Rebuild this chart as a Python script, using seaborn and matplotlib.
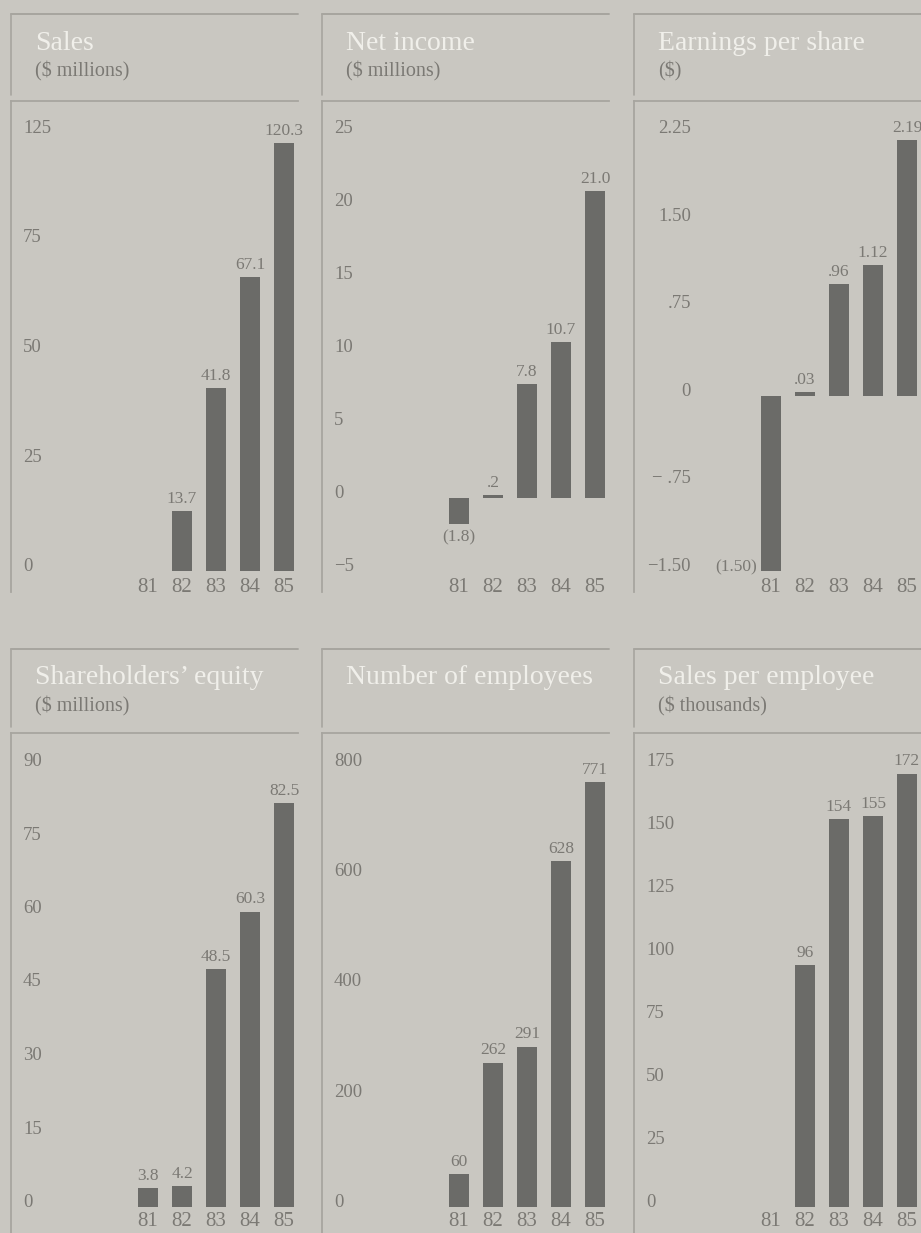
import numpy as np
import pandas as pd
import matplotlib
matplotlib.use("Agg")
import matplotlib.pyplot as plt
import seaborn as sns
from matplotlib.lines import Line2D

# ---------------- data ----------------
years = ["81", "82", "83", "84", "85"]

sales = [np.nan, 13.7, 41.8, 67.1, 120.3]
sales_labels = ["", "13.7", "41.8", "67.1", "120.3"]
sales_ticks = [0, 25, 50, 75, 125]
sales_ticklabels = ["0", "25", "50", "75", "125"]

net_income = [-1.8, 0.2, 7.8, 10.7, 21.0]
net_income_labels = ["(1.8)", ".2", "7.8", "10.7", "21.0"]
net_income_ticks = [-5, 0, 5, 10, 15, 20, 25]
net_income_ticklabels = ["\u22125", "0", "5", "10", "15", "20", "25"]

eps = [-1.50, 0.03, 0.96, 1.12, 2.19]
eps_labels = ["(1.50)", ".03", ".96", "1.12", "2.19"]
eps_ticks = [-1.50, -0.75, 0, 0.75, 1.50, 2.25]
eps_ticklabels = ["\u22121.50", "\u2212 .75", "0", ".75", "1.50", "2.25"]

equity = [3.8, 4.2, 48.5, 60.3, 82.5]
equity_labels = ["3.8", "4.2", "48.5", "60.3", "82.5"]
equity_ticks = [0, 15, 30, 45, 60, 75, 90]
equity_ticklabels = ["0", "15", "30", "45", "60", "75", "90"]

employees = [60, 262, 291, 628, 771]
employees_labels = ["60", "262", "291", "628", "771"]
employees_ticks = [0, 200, 400, 600, 800]
employees_ticklabels = ["0", "200", "400", "600", "800"]

sales_per_employee = [np.nan, 96, 154, 155, 172]
sales_per_employee_labels = ["", "96", "154", "155", "172"]
sales_per_employee_ticks = [0, 25, 50, 75, 100, 125, 150, 175]
sales_per_employee_ticklabels = ["0", "25", "50", "75", "100", "125", "150", "175"]

titles = ["Sales", "Net income", "Earnings per share",
          "Shareholders\u2019 equity", "Number of employees", "Sales per employee"]
subtitles = ["($ millions)", "($ millions)", "($)",
             "($ millions)", "", "($ thousands)"]

# ---------------- style ----------------
BG = "#c9c7c1"
BAR = "#6b6b68"
TXT = "#7b7974"
LINE = "#a7a59f"
TITLE = "#f0efea"

sns.set_theme(style="white", rc={"figure.facecolor": BG, "axes.facecolor": BG,
                                 "savefig.facecolor": BG})
plt.rcParams["font.family"] = ["Liberation Serif", "DejaVu Serif"]

W, H = 921, 1233
fig = plt.figure(figsize=(W / 100, H / 100), dpi=100)
PX = 0.72  # px -> pt at 100 dpi


# compressed scale above 75 (as printed in the Sales panel)
def sales_fwd(y):
    y = np.asarray(y, dtype=float)
    return np.where(y <= 75, y, 75 + (y - 75) * 0.5)


def sales_inv(u):
    u = np.asarray(u, dtype=float)
    return np.where(u <= 75, u, 75 + (u - 75) * 2.0)


ident = lambda v: np.asarray(v, dtype=float)

panels = [
    dict(vals=sales, labs=sales_labels, ticks=sales_ticks, tl=sales_ticklabels,
         scale=(sales_fwd, sales_inv), neg=None, tick_ha="left"),
    dict(vals=net_income, labs=net_income_labels, ticks=net_income_ticks,
         tl=net_income_ticklabels, scale=None, neg="below", tick_ha="left"),
    dict(vals=eps, labs=eps_labels, ticks=eps_ticks, tl=eps_ticklabels,
         scale=None, neg="left", tick_ha="right"),
    dict(vals=equity, labs=equity_labels, ticks=equity_ticks, tl=equity_ticklabels,
         scale=None, neg=None, tick_ha="left"),
    dict(vals=employees, labs=employees_labels, ticks=employees_ticks,
         tl=employees_ticklabels, scale=None, neg=None, tick_ha="left"),
    dict(vals=sales_per_employee, labs=sales_per_employee_labels,
         ticks=sales_per_employee_ticks, tl=sales_per_employee_ticklabels,
         scale=None, neg=None, tick_ha="left"),
]

# layout (pixels)
col_left = [11, 322, 634]
panel_w = 287
rows = [
    dict(title_top=14, chart_top=101, ax_bottom=592, hi_px=133, lo_px=571, xlab_px=587),
    dict(title_top=649, chart_top=733, ax_bottom=1233, hi_px=766, lo_px=1207, xlab_px=1222),
]
first_off = 137.0
spacing = 34.0
BAR_W = 0.56


def fx(x):
    return x / W


def fy(y):
    return 1 - y / H


for k, p in enumerate(panels):
    r = rows[k // 3]
    L = col_left[k % 3]

    # title box lines
    fig.add_artist(Line2D([fx(L), fx(L + panel_w)], [fy(r["title_top"])] * 2,
                          color=LINE, lw=1.4, transform=fig.transFigure))
    fig.add_artist(Line2D([fx(L), fx(L)], [fy(r["title_top"]), fy(r["chart_top"] - 6)],
                          color=LINE, lw=1.2, transform=fig.transFigure))
    fig.text(fx(L + 24), fy(r["title_top"] + 29), titles[k], ha="left", va="center",
             fontsize=20, color=TITLE)
    if subtitles[k]:
        fig.text(fx(L + 24), fy(r["title_top"] + 57), subtitles[k], ha="left",
                 va="center", fontsize=14.5, color=TXT)

    # chart axes
    ax = fig.add_axes([fx(L), fy(r["ax_bottom"]), panel_w / W,
                       (r["ax_bottom"] - r["chart_top"]) / H])
    ax.set_facecolor("none")
    df = pd.DataFrame({"year": years, "value": p["vals"]}).dropna()
    sns.barplot(data=df, x="year", y="value", order=years, color=BAR, width=BAR_W,
                errorbar=None, saturation=1, linewidth=0, ax=ax)

    fwd, inv = p["scale"] if p["scale"] else (ident, ident)
    if p["scale"]:
        ax.set_yscale("function", functions=(fwd, inv))

    u_lo = float(fwd(p["ticks"][0]))
    u_hi = float(fwd(p["ticks"][-1]))
    ppu = (r["lo_px"] - r["hi_px"]) / (u_hi - u_lo)
    u_bot = u_lo - (r["ax_bottom"] - r["lo_px"]) / ppu
    u_top = u_hi + (r["hi_px"] - r["chart_top"]) / ppu
    ax.set_ylim(float(inv(u_bot)), float(inv(u_top)))
    ax.set_xlim(-first_off / spacing, (panel_w - first_off) / spacing)

    for s in ["right", "bottom"]:
        ax.spines[s].set_visible(False)
    for s in ["top", "left"]:
        ax.spines[s].set_visible(True)
        ax.spines[s].set_color(LINE)
        ax.spines[s].set_linewidth(1.3)

    ax.set_yticks(p["ticks"], labels=p["tl"], ha=p["tick_ha"], va="baseline")
    ypad = 12 if p["tick_ha"] == "left" else 57
    ax.tick_params(axis="y", length=0, pad=-ypad * PX, labelsize=13.5, labelcolor=TXT)
    ax.tick_params(axis="x", length=0, pad=-(r["ax_bottom"] - r["xlab_px"]) * PX,
                   labelsize=15, labelcolor=TXT)
    for lab in ax.get_xticklabels():
        lab.set_va("center")
    ax.set_xlabel("")
    ax.set_ylabel("")
    ax.grid(False)

    # value labels
    for i, (v, lab) in enumerate(zip(p["vals"], p["labs"])):
        if v is None or (isinstance(v, float) and np.isnan(v)) or not lab:
            continue
        if v >= 0:
            ax.annotate(lab, xy=(i, v), xytext=(0, 3), textcoords="offset points",
                        ha="center", va="bottom", fontsize=12.5, color=TXT)
        elif p["neg"] == "left":
            ax.annotate(lab, xy=(i - BAR_W / 2, v), xytext=(-3, 0),
                        textcoords="offset points", ha="right", va="baseline",
                        fontsize=12.5, color=TXT)
        else:
            ax.annotate(lab, xy=(i, v), xytext=(0, -4), textcoords="offset points",
                        ha="center", va="top", fontsize=12.5, color=TXT)

fig.savefig("out.png", dpi=100, facecolor=BG)
